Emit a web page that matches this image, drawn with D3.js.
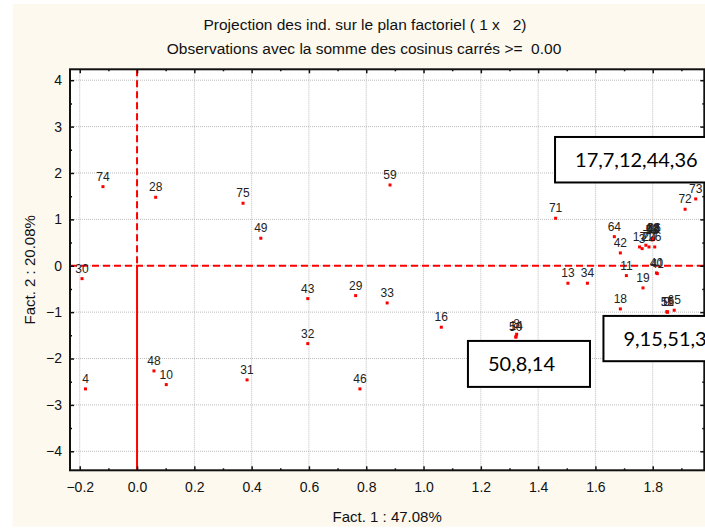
<!DOCTYPE html>
<html>
<head>
<meta charset="utf-8">
<script src="https://cdn.jsdelivr.net/npm/d3@7/dist/d3.min.js"></script>
<style>
body { margin: 0; background: #fff; }
svg { display: block; font-family: "Liberation Sans", Arial, sans-serif; }
</style>
</head>
<body>
<svg id="chart"></svg>
<script>
// Dimensions of the picture and of the plot frame.
var width = 705;
var height = 528;
var plot = { left: 70, right: 704.3, top: 69.3, bottom: 470.3 };

// Observations: label, coordinate on factor 1, coordinate on factor 2.
var obsLabels = ["74", "28", "75", "49", "30", "59", "71", "43", "29", "33",
    "16", "32", "48", "10", "31", "46", "4", "73", "72", "64",
    "42", "13", "34", "11", "19", "40", "41", "18", "15", "51",
    "9", "65", "50", "8", "14",
    "17", "3", "7", "20", "26", "12", "44", "36", "68", "58"];
var fact1 = [-0.119, 0.065, 0.370, 0.432, -0.192, 0.883, 1.461, 0.596, 0.763, 0.873,
    1.062, 0.596, 0.059, 0.102, 0.384, 0.778, -0.180, 1.950, 1.913, 1.666,
    1.687, 1.504, 1.572, 1.708, 1.766, 1.813, 1.816, 1.687, 1.852, 1.851,
    1.849, 1.875, 1.322, 1.325, 1.323,
    1.754, 1.763, 1.776, 1.787, 1.807, 1.800, 1.803, 1.805, 1.801, 1.798];
var fact2 = [1.705, 1.476, 1.347, 0.593, -0.278, 1.741, 1.024, -0.709, -0.644, -0.802,
    -1.325, -1.679, -2.267, -2.562, -2.461, -2.655, -2.655, 1.440, 1.218, 0.627,
    0.276, -0.377, -0.377, -0.213, -0.478, -0.155, -0.170, -0.931, -0.996, -1.000,
    -0.992, -0.959, -1.541, -1.476, -1.520,
    0.405, 0.369, 0.442, 0.405, 0.405, 0.578, 0.566, 0.590, 0.600, 0.556];

// Tick values.
var xTicks = [-0.2, 0.0, 0.2, 0.4, 0.6, 0.8, 1.0, 1.2, 1.4, 1.6, 1.8];
var xMinor = [-0.1, 0.1, 0.3, 0.5, 0.7, 0.9, 1.1, 1.3, 1.5, 1.7, 1.9];
var yTicks = [-4, -3, -2, -1, 0, 1, 2, 3, 4];
var yMinor = [-3.5, -2.5, -1.5, -0.5, 0.5, 1.5, 2.5, 3.5];

// Annotation boxes (text, and corners in data units).
var boxTexts = ["17,7,12,44,36", "9,15,51,3", "50,8,14"];
var boxX = [1.459, 1.628, 1.155];
var boxY = [2.776, -1.082, -1.621];
var boxRight = [2.05, 2.05, 1.581];
var boxBottom = [1.795, -2.058, -2.612];

var svg = d3.select("#chart")
    .attr("width", width)
    .attr("height", height);

// Cream background of the graph window.
svg.append("rect")
    .attr("x", 12.7).attr("y", 4)
    .attr("width", width - 12.7).attr("height", 522.7)
    .style("fill", "#fdf9ef");

var x = d3.scaleLinear().domain([-0.234, 1.98]).range([plot.left, plot.right]);
var y = d3.scaleLinear().domain([-4.41, 4.235]).range([plot.bottom, plot.top]);

// White plot area.
svg.append("rect")
    .attr("x", plot.left).attr("y", plot.top)
    .attr("width", plot.right - plot.left).attr("height", plot.bottom - plot.top)
    .style("fill", "#fff");

// Dotted grid.
var grid = svg.append("g").attr("class", "grid");
grid.selectAll("line.gx").data(xTicks).enter().append("line")
    .attr("x1", function(d) { return x(d); }).attr("x2", function(d) { return x(d); })
    .attr("y1", plot.top).attr("y2", plot.bottom);
grid.selectAll("line.gy").data(yTicks).enter().append("line")
    .attr("y1", function(d) { return y(d); }).attr("y2", function(d) { return y(d); })
    .attr("x1", plot.left).attr("x2", plot.right);
grid.selectAll("line")
    .style("stroke", "#bdbdbd")
    .style("stroke-width", 1)
    .style("stroke-dasharray", "1,1");

// Red reference lines through the origin.
svg.append("line")
    .attr("x1", plot.left).attr("x2", plot.right)
    .attr("y1", y(0)).attr("y2", y(0))
    .style("stroke", "#ff0000").style("stroke-width", 2)
    .style("stroke-dasharray", "7,4");
svg.append("line")
    .attr("x1", x(0)).attr("x2", x(0))
    .attr("y1", plot.top).attr("y2", y(0))
    .style("stroke", "#ff0000").style("stroke-width", 2)
    .style("stroke-dasharray", "7,4");
svg.append("line")
    .attr("x1", x(0)).attr("x2", x(0))
    .attr("y1", y(0)).attr("y2", plot.bottom)
    .style("stroke", "#ff0000").style("stroke-width", 2);

// Axes, ticks pointing into the plot.
function styleAxis(g) {
    g.select(".domain").remove();
    g.selectAll(".tick line").style("stroke", "#111").style("stroke-width", 1.5);
    g.selectAll(".tick text").style("font-size", "14px").style("fill", "#111")
        .style("font-family", "'Liberation Sans', Arial, sans-serif");
}

svg.append("g")
    .attr("transform", "translate(0," + plot.bottom + ")")
    .call(d3.axisBottom(x).tickValues(xTicks).tickSize(-4).tickPadding(12)
        .tickFormat(d3.format(".1f")))
    .call(styleAxis);
svg.append("g")
    .attr("transform", "translate(0," + plot.bottom + ")")
    .call(d3.axisBottom(x).tickValues(xMinor).tickSize(-2).tickFormat(""))
    .call(styleAxis);
svg.append("g")
    .attr("transform", "translate(0," + plot.top + ")")
    .call(d3.axisTop(x).tickValues(xTicks).tickSize(-4).tickFormat(""))
    .call(styleAxis);
svg.append("g")
    .attr("transform", "translate(0," + plot.top + ")")
    .call(d3.axisTop(x).tickValues(xMinor).tickSize(-2).tickFormat(""))
    .call(styleAxis);
svg.append("g")
    .attr("transform", "translate(" + plot.left + ",0)")
    .call(d3.axisLeft(y).tickValues(yTicks).tickSize(-4).tickPadding(8)
        .tickFormat(d3.format("d")))
    .call(styleAxis);
svg.append("g")
    .attr("transform", "translate(" + plot.left + ",0)")
    .call(d3.axisLeft(y).tickValues(yMinor).tickSize(-2).tickFormat(""))
    .call(styleAxis);
svg.append("g")
    .attr("transform", "translate(" + plot.right + ",0)")
    .call(d3.axisRight(y).tickValues(yTicks).tickSize(-4).tickFormat(""))
    .call(styleAxis);
svg.append("g")
    .attr("transform", "translate(" + plot.right + ",0)")
    .call(d3.axisRight(y).tickValues(yMinor).tickSize(-2).tickFormat(""))
    .call(styleAxis);

// Frame.
svg.append("rect")
    .attr("x", plot.left).attr("y", plot.top)
    .attr("width", plot.right - plot.left).attr("height", plot.bottom - plot.top)
    .style("fill", "none").style("stroke", "#111").style("stroke-width", 2);

// Points and their labels.
var obs = obsLabels.map(function(l, i) { return { label: l, f1: fact1[i], f2: fact2[i] }; });

var marks = svg.append("g");
marks.selectAll("rect").data(obs).enter().append("rect")
    .attr("x", function(d) { return x(d.f1) - 1.5; })
    .attr("y", function(d) { return y(d.f2) - 1.5; })
    .attr("width", 3).attr("height", 3)
    .style("fill", "#ff0000");
marks.selectAll("text").data(obs).enter().append("text")
    .attr("x", function(d) { return x(d.f1); })
    .attr("y", function(d) { return y(d.f2) - 6; })
    .attr("text-anchor", "middle")
    .style("font-size", "12px")
    .style("fill", "#222")
    .text(function(d) { return d.label; });

// Annotation boxes.
var boxes = boxTexts.map(function(t, i) {
    return { text: t, x0: boxX[i], y0: boxY[i], x1: boxRight[i], y1: boxBottom[i] };
});
var boxG = svg.selectAll("g.box").data(boxes).enter().append("g").attr("class", "box");
boxG.append("rect")
    .attr("x", function(d) { return x(d.x0); })
    .attr("y", function(d) { return y(d.y0); })
    .attr("width", function(d) { return x(d.x1) - x(d.x0); })
    .attr("height", function(d) { return y(d.y1) - y(d.y0); })
    .style("fill", "#fff").style("stroke", "#000").style("stroke-width", 2);
boxG.append("text")
    .attr("x", function(d) { return x(d.x0) + 20; })
    .attr("y", function(d) { return (y(d.y0) + y(d.y1)) / 2; })
    .attr("dy", "0.36em")
    .style("font-family", "Lato, 'Open Sans', sans-serif")
    .style("font-size", "20px")
    .style("fill", "#000")
    .text(function(d) { return d.text; });

// Titles.
svg.append("text")
    .attr("x", 365).attr("y", 30)
    .attr("text-anchor", "middle")
    .style("white-space", "pre")
    .style("font-size", "15.5px").style("fill", "#111")
    .text("Projection des ind. sur le plan factoriel ( 1 x   2)");
svg.append("text")
    .attr("x", 364).attr("y", 54)
    .attr("text-anchor", "middle")
    .style("white-space", "pre")
    .style("font-size", "15.5px").style("fill", "#111")
    .text("Observations avec la somme des cosinus carrés >=  0.00");
svg.append("text")
    .attr("x", (plot.left + plot.right) / 2).attr("y", 522)
    .attr("text-anchor", "middle")
    .style("font-size", "15px").style("fill", "#111")
    .text("Fact. 1 : 47.08%");
svg.append("text")
    .attr("transform", "translate(35," + (plot.top + plot.bottom) / 2 + ") rotate(-90)")
    .attr("text-anchor", "middle")
    .style("font-size", "15px").style("fill", "#111")
    .text("Fact. 2 : 20.08%");
</script>
</body>
</html>
